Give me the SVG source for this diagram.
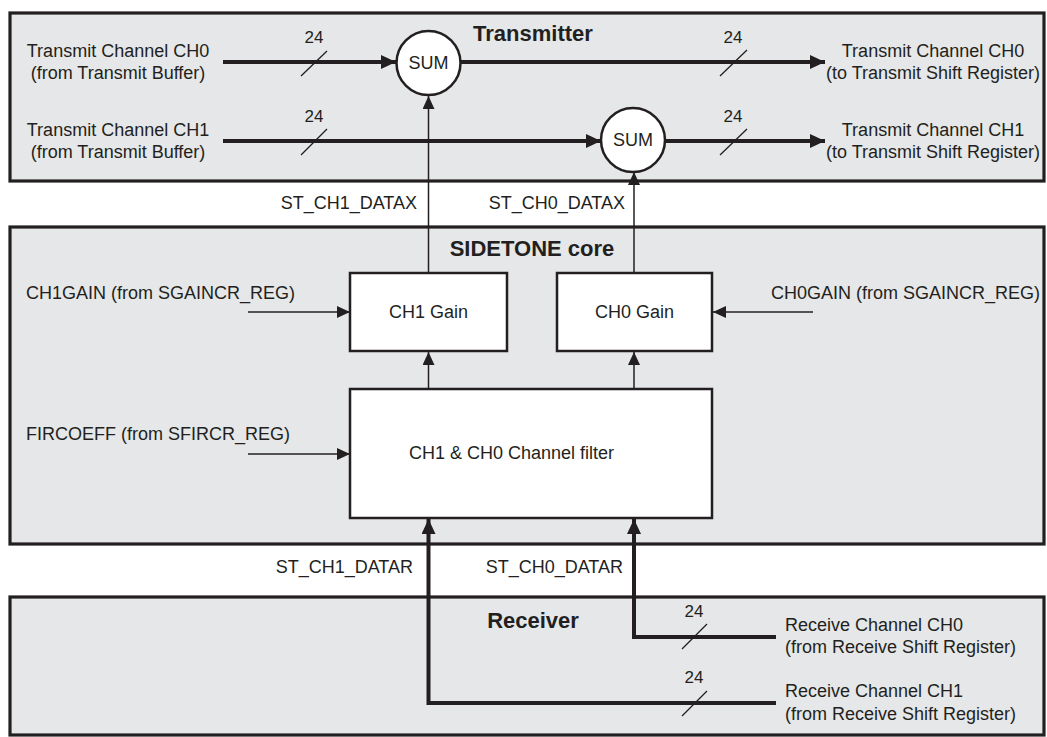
<svg xmlns="http://www.w3.org/2000/svg" width="1047" height="737" viewBox="0 0 1047 737">
<style>
text{font-family:"Liberation Sans",Arial,sans-serif;fill:#231f20}
.t{font-size:18px}
.n{font-size:17px}
.b{font-size:22px;font-weight:bold}
.grp{fill:#e6e7e8;stroke:#231f20;stroke-width:3.2}
.blk{fill:#fff;stroke:#231f20;stroke-width:2.5}
.thick{stroke:#231f20;stroke-width:4;fill:none}
.thin{stroke:#231f20;stroke-width:1.5;fill:none}
.sl{stroke:#231f20;stroke-width:1.3}
</style>
<defs>
<marker id="ah" markerUnits="userSpaceOnUse" markerWidth="16" markerHeight="14" refX="15" refY="7" orient="auto"><path d="M0,0 L15,7 L0,14 Z" fill="#231f20"/></marker>
<marker id="as" markerUnits="userSpaceOnUse" markerWidth="14" markerHeight="12" refX="13" refY="6" orient="auto"><path d="M0,0 L13,6 L0,12 Z" fill="#231f20"/></marker>
</defs>
<g id="transmitter"><rect class="grp" x="10" y="13" width="1034" height="168"/><text class="b" x="533" y="41" text-anchor="middle">Transmitter</text></g>
<g id="sidetone"><rect class="grp" x="10" y="227" width="1034" height="317"/><text class="b" x="532" y="256" text-anchor="middle">SIDETONE core</text></g>
<g id="receiver"><rect class="grp" x="10" y="597" width="1034" height="138"/><text class="b" x="533" y="628" text-anchor="middle">Receiver</text></g>
<g id="sum1"><circle cx="428.5" cy="63" r="32" class="blk"/><text class="t" x="428.5" y="69" text-anchor="middle">SUM</text></g>
<g id="sum2"><circle cx="633" cy="140" r="32" class="blk"/><text class="t" x="633" y="146" text-anchor="middle">SUM</text></g>
<g id="ch1gain"><rect class="blk" x="350" y="273" width="157" height="78"/><text class="t" x="428.5" y="318" text-anchor="middle">CH1 Gain</text></g>
<g id="ch0gain"><rect class="blk" x="557" y="273" width="155" height="78"/><text class="t" x="634.5" y="318" text-anchor="middle">CH0 Gain</text></g>
<g id="filter"><rect class="blk" x="350" y="389" width="362" height="129"/><text class="t" x="409" y="459">CH1 &amp; CH0 Channel filter</text></g>
<g id="connectors">
<line class="thick" x1="223" y1="62" x2="396" y2="62" marker-end="url(#ah)"/>
<line class="thick" x1="461" y1="62" x2="825" y2="62" marker-end="url(#ah)"/>
<line class="thick" x1="223" y1="141" x2="601" y2="141" marker-end="url(#ah)"/>
<line class="thick" x1="665" y1="141" x2="825" y2="141" marker-end="url(#ah)"/>
<line class="thin" x1="428.5" y1="273" x2="428.5" y2="96" marker-end="url(#as)"/>
<line class="thin" x1="634" y1="273" x2="634" y2="172" marker-end="url(#as)"/>
<line class="thin" x1="428.5" y1="389" x2="428.5" y2="352" marker-end="url(#as)"/>
<line class="thin" x1="634" y1="389" x2="634" y2="352" marker-end="url(#as)"/>
<line class="thin" x1="248" y1="312" x2="350" y2="312" marker-end="url(#as)"/>
<line class="thin" x1="813" y1="312" x2="713" y2="312" marker-end="url(#as)"/>
<line class="thin" x1="248" y1="454" x2="350" y2="454" marker-end="url(#as)"/>
<polyline class="thick" points="776,703 428.5,703 428.5,519" marker-end="url(#ah)"/>
<polyline class="thick" points="776,637 634,637 634,519" marker-end="url(#ah)"/>
<line class="sl" x1="301" y1="76" x2="327" y2="51"/>
<line class="sl" x1="720" y1="76" x2="747" y2="50"/>
<line class="sl" x1="301" y1="155" x2="327" y2="129"/>
<line class="sl" x1="720" y1="155" x2="747" y2="129"/>
<line class="sl" x1="682" y1="649" x2="707" y2="624"/>
<line class="sl" x1="682" y1="716" x2="707" y2="691"/>
</g>
<g id="labels">
<text class="n" x="314" y="43" text-anchor="middle">24</text>
<text class="n" x="733" y="43" text-anchor="middle">24</text>
<text class="n" x="314" y="122" text-anchor="middle">24</text>
<text class="n" x="733" y="122" text-anchor="middle">24</text>
<text class="n" x="694" y="617" text-anchor="middle">24</text>
<text class="n" x="694" y="683" text-anchor="middle">24</text>
<text class="t" x="118" y="57" text-anchor="middle">Transmit Channel CH0</text>
<text class="t" x="118" y="79" text-anchor="middle">(from Transmit Buffer)</text>
<text class="t" x="118" y="136" text-anchor="middle">Transmit Channel CH1</text>
<text class="t" x="118" y="158" text-anchor="middle">(from Transmit Buffer)</text>
<text class="t" x="933" y="57" text-anchor="middle">Transmit Channel CH0</text>
<text class="t" x="933" y="79" text-anchor="middle">(to Transmit Shift Register)</text>
<text class="t" x="933" y="136" text-anchor="middle">Transmit Channel CH1</text>
<text class="t" x="933" y="158" text-anchor="middle">(to Transmit Shift Register)</text>
<text class="t" x="417" y="209" text-anchor="end">ST_CH1_DATAX</text>
<text class="t" x="625" y="209" text-anchor="end">ST_CH0_DATAX</text>
<text class="t" x="26" y="299">CH1GAIN (from SGAINCR_REG)</text>
<text class="t" x="1040" y="299" text-anchor="end">CH0GAIN (from SGAINCR_REG)</text>
<text class="t" x="26" y="440">FIRCOEFF (from SFIRCR_REG)</text>
<text class="t" x="413" y="573" text-anchor="end">ST_CH1_DATAR</text>
<text class="t" x="623" y="573" text-anchor="end">ST_CH0_DATAR</text>
<text class="t" x="785" y="631">Receive Channel CH0</text>
<text class="t" x="785" y="653">(from Receive Shift Register)</text>
<text class="t" x="785" y="697">Receive Channel CH1</text>
<text class="t" x="785" y="720">(from Receive Shift Register)</text>
</g>
</svg>
